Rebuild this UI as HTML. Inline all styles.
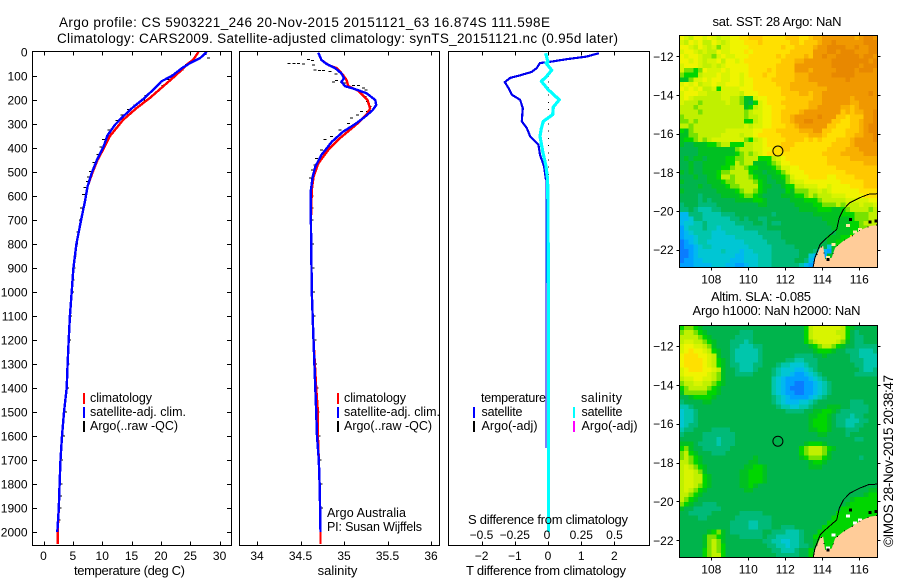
<!DOCTYPE html>
<html lang="en">
<head>
<meta charset="utf-8">
<title>Argo profile 5903221_246</title>
<style>
html,body{margin:0;padding:0;background:#fff;}
svg{display:block;}
text{font-family:"Liberation Sans",sans-serif;font-size:12px;fill:#000;}
text.big{font-size:13.5px;}
text.mid{font-size:13px;}
text.leg{font-size:12.5px;}
</style>
</head>
<body>
<svg id="chart" xmlns="http://www.w3.org/2000/svg" width="900" height="580" viewBox="0 0 900 580">
  <rect x="0" y="0" width="900" height="580" fill="#fff"/>
  <defs>
    <clipPath id="clip-sst"><rect x="679.5" y="35.5" width="198" height="232"/></clipPath>
    <clipPath id="clip-sla"><rect x="679.5" y="325.5" width="198" height="232"/></clipPath>
  </defs>
  <text class="big" x="59" y="27" textLength="491" lengthAdjust="spacing">Argo profile: CS 5903221_246 20-Nov-2015 20151121_63 16.874S 111.598E</text>
  <text class="big" x="57" y="43" textLength="561" lengthAdjust="spacing">Climatology: CARS2009. Satellite-adjusted climatology: synTS_20151121.nc (0.95d later)</text>
  <g id="layer-maps"></g>
  <g id="layer-profiles"></g>
  <g id="layer-axes"></g>

  <text class="mid" x="129.5" y="575" text-anchor="middle" textLength="111" lengthAdjust="spacing">temperature (deg C)</text>
  <text class="mid" x="337.5" y="575" text-anchor="middle">salinity</text>
  <text class="mid" x="546" y="575" text-anchor="middle" textLength="160" lengthAdjust="spacing">T difference from climatology</text>
  <text class="mid" x="548" y="524" text-anchor="middle" textLength="160" lengthAdjust="spacing">S difference from climatology</text>

  <g>
    <rect x="83" y="393" width="2" height="11" fill="#f00"/>
    <rect x="83" y="407" width="2" height="11" fill="#00f"/>
    <rect x="83" y="421" width="2" height="11" fill="#000"/>
    <text class="leg" x="90" y="402" textLength="62" lengthAdjust="spacing">climatology</text>
    <text class="leg" x="90" y="416" textLength="96" lengthAdjust="spacing">satellite-adj. clim.</text>
    <text class="leg" x="90" y="430" textLength="88" lengthAdjust="spacing">Argo(..raw -QC)</text>
  </g>
  <g>
    <rect x="337" y="393" width="2" height="11" fill="#f00"/>
    <rect x="337" y="407" width="2" height="11" fill="#00f"/>
    <rect x="337" y="421" width="2" height="11" fill="#000"/>
    <text class="leg" x="344" y="402" textLength="62" lengthAdjust="spacing">climatology</text>
    <text class="leg" x="344" y="416" textLength="96" lengthAdjust="spacing">satellite-adj. clim.</text>
    <text class="leg" x="344" y="430" textLength="88" lengthAdjust="spacing">Argo(..raw -QC)</text>
    <text class="leg" x="327" y="517" textLength="79" lengthAdjust="spacing">Argo Australia</text>
    <text class="leg" x="327" y="531" textLength="95" lengthAdjust="spacing">PI: Susan Wijffels</text>
  </g>
  <g>
    <text class="leg" x="481" y="402" textLength="65" lengthAdjust="spacing">temperature</text>
    <text class="leg" x="581" y="402" textLength="41" lengthAdjust="spacing">salinity</text>
    <rect x="473" y="407" width="2" height="11" fill="#00f"/>
    <rect x="473" y="421" width="2" height="11" fill="#000"/>
    <rect x="573" y="407" width="2" height="11" fill="#0ff"/>
    <rect x="573" y="421" width="2" height="11" fill="#f0f"/>
    <text class="leg" x="481.5" y="416" textLength="41" lengthAdjust="spacing">satellite</text>
    <text class="leg" x="481.5" y="430" textLength="56" lengthAdjust="spacing">Argo(-adj)</text>
    <text class="leg" x="581.5" y="416" textLength="41" lengthAdjust="spacing">satellite</text>
    <text class="leg" x="581.5" y="430" textLength="56" lengthAdjust="spacing">Argo(-adj)</text>
  </g>

  <text class="mid" x="777" y="26" text-anchor="middle" textLength="129" lengthAdjust="spacing">sat. SST: 28 Argo: NaN</text>
  <text class="mid" x="711" y="301" textLength="100" lengthAdjust="spacing">Altim. SLA: -0.085</text>
  <text class="mid" x="692.5" y="315" textLength="168" lengthAdjust="spacing">Argo h1000: NaN h2000: NaN</text>
  <text class="big" transform="translate(893,547) rotate(-90)" textLength="172" lengthAdjust="spacing">©IMOS 28-Nov-2015 20:38:47</text>
</svg>

<script>
// ---------- depth axis ----------
const depthTicks = [0,100,200,300,400,500,600,700,800,900,1000,1100,1200,1300,1400,1500,1600,1700,1800,1900,2000];

// ---------- temperature panel ----------
const tempTicks = [0,5,10,15,20,25,30];
const climDepth = [0,32,53,94,143,192,233,282,351,396,450,506,561,617,700,800,900,1000,1100,1200,1300,1400,1500,1600,1700,1800,1900,2000,2050];
const climTemp = [26.4,25.5,24.4,22.7,20.4,18.1,15.9,13.6,11.3,10.4,9.2,8.3,7.5,7.1,6.4,5.6,5.1,4.8,4.5,4.3,4.1,3.95,3.5,3.15,2.9,2.75,2.6,2.4,2.4];
const satDepth = [0,25,46,67,99,122,157,196,229,268,303,347,396,450,506,561,617,700,800,900,1000,1100,1200,1300,1400,1500,1600,1700,1800,1900,2000];
const satTemp = [27.8,26.7,25.0,23.6,21.9,20.1,18.7,17.0,15.3,13.6,12.2,10.9,10.2,9.1,8.2,7.5,7.1,6.4,5.6,5.1,4.8,4.5,4.3,4.1,3.95,3.5,3.15,2.9,2.75,2.6,2.35];
const argoTempDepth = [10,25,32,53,74,94,115,140,164,182,199,220,240,262,285,325,365,395,428,460,497,520,539,565,594,650,700,750,800,850,900,950,1000,1100,1200,1300,1400,1500,1600,1700,1800,1850,1900,1950];
const argoTemp = [27.5,28.1,26.1,24.4,23.6,22.1,21.2,20.4,18.4,17.5,17.0,15.6,14.5,13.4,12.5,11.2,10.2,9.8,9.3,8.6,8.0,7.7,7.5,7.1,6.8,6.5,6.3,5.9,5.6,5.4,5.2,5.0,4.9,4.6,4.4,4.2,4.1,3.75,3.4,3.1,2.95,2.9,2.85,2.6];

// ---------- salinity panel ----------
const salTicks = [34,34.5,35,35.5,36];
const salTickLabels = ['34','34.5','35','35.5','36'];
const climSalDepth = [3,33,54,68,96,117,142,161,200,235,255,290,318,360,408,464,520,575,700,1000,1200,1400,1500,1600,1700,1800,1900,2000,2050];
const climSal = [34.705,34.74,34.82,34.92,34.99,35.03,35.05,35.16,35.27,35.30,35.27,35.18,35.09,34.95,34.82,34.705,34.65,34.63,34.62,34.63,34.65,34.68,34.70,34.70,34.71,34.72,34.725,34.73,34.73];
const satSalDepth = [3,33,50,68,89,110,124,142,155,172,200,221,242,270,300,332,374,429,478,520,575,700,1000,1200,1400,1500,1600,1700,1800,1900,2000];
const satSal = [34.705,34.74,34.80,34.90,34.97,35.0,34.97,35.01,35.13,35.26,35.36,35.37,35.33,35.24,35.13,34.99,34.86,34.74,34.67,34.64,34.62,34.62,34.63,34.65,34.67,34.68,34.69,34.71,34.72,34.725,34.73];
const argoSalDepth = [47,47,47,50,31,36,54,75,78,78,82,92,119,124,124,130,140,140,151,158,186,207,228,248,248,262,276,297,325,353,364,408,443,471,492,526,561,600,650,700,800,900,1000,1100,1200,1300,1400,1500,1600,1700,1800,1900];
const argoSal = [34.37,34.425,34.475,34.533,34.59,34.636,34.648,34.667,34.716,34.762,34.839,34.908,34.916,34.877,34.973,35.011,35.107,35.165,35.222,35.253,35.241,35.268,35.299,35.268,35.203,35.153,35.088,35.05,34.954,34.858,34.782,34.743,34.686,34.667,34.636,34.617,34.629,34.63,34.635,34.635,34.64,34.645,34.65,34.655,34.665,34.675,34.69,34.70,34.71,34.725,34.735,34.74];

// ---------- difference panel ----------
const diffTTicks = [-2,-1,0,1,2];
const diffSTicks = [-0.5,-0.25,0,0.25,0.5];
const diffSTickLabels = ['−0.5','−0.25','0','0.25','0.5'];
const diffTTickLabels = ['−2','−1','0','1','2'];
const diffTDepth = [5,19,30,42,46,67,83,97,108,126,150,178,199,233,289,317,351,386,428,476,532];
const diffT = [1.53,1.16,0.56,0.01,-0.24,-0.34,-0.49,-0.84,-1.14,-1.3,-1.19,-1.09,-0.84,-0.76,-0.79,-0.64,-0.54,-0.29,-0.24,-0.12,-0.06];
const diffT1Depth = [532,1000,1650];
const diffT1 = [-0.06,-0.06,-0.06];
const diffT2Depth = [1730,1855];
const diffT2 = [0.05,0.05];
const diffT3Depth = [1960,2000];
const diffT3 = [0.05,0.05];
const diffSDepth = [5,42,46,76,101,122,156,199,229,261,289,317,351,414,476,532,660,1000,1500,2000];
const diffS = [-0.018,0,-0.015,0.028,-0.01,-0.05,0,0.085,0.04,0.035,-0.035,-0.05,-0.06,-0.04,-0.015,-0.003,0,0.003,0.003,0.003];
const argoDiffDepth = [100,125,150,180,210,240,270,300,330,360,390,420,450,480,510,540];
const argoDiffT = [0.02,0.02,0.02,0.02,0.02,0.02,0.02,0.02,0.02,0.02,0.02,0.02,0.02,0.02,0.02,0.02];

// ---------- map data (a = coldest .. r = warmest, one letter per grid cell) ----------
const lonTicks = [108,110,112,114,116];
const latTicks = [-12,-14,-16,-18,-20,-22];
const floatLon = 111.6;
const floatLat = -16.9;
const sstRows = [
"mlkmmlmlkl lmmnnooonn nnnooonnop pqqqqqqqpq rrq",
"lkmlmkkmlk lmmmnnnonn nnnnoonooo pqqrqqqqqq rrr",
"mmlkmlkljl lmmmmnnnnn nnonnoooop qqrrrrqqrq qrr",
"lmmlklkkml lmmmnmnnnn nnnnoooooq qqrrqrrrqq qrr",
"mlmmlkkjlm llmmmnnnnn nonoooopoq qrqqrrrrrq rrq",
"mmlmlkllmk mmlmnnnnnn nnoooppqqq qqqrrrrrrr rqr",
"lmmmlkklkl mmmmmnnnnn nooooqqqqq qqqrrrrrrq rrr",
"ljjijmlllm lmmmmnnnno nooooqqqpq qqqqrrrrqr rrq",
"jiiiklllml lmmlmnnnon noooopppqq qqqrrrrrqq qqq",
"hhjllmlmml lmmlmmnnnn ooooopppqq qqqqqqrqqq qqq",
"lmlmkllmll mmmlmmnnnn nooopppppp qqqqqqqqqq qqq",
"mlmlmkklil lllmmmnnnn nnoopppppp ppqqqqqqqq qqq",
"lmmmllkkkl lllkmmmnnn nnooooppop pqqqqqqqqq qrq",
"lmlkkkkkkl lkkjhhlmmn nnnoooooop pqqqqqqpqq qqq",
"lkkkjkkkkk lkkjhgilmn nnoooooopp pqqqqqqppq qqq",
"kkkjkkkkkk kkkkhiklmm nnnooooopp qqqqqppopq qqq",
"kkkkjkkkkk kkkkjkllmm nnoooopqqq qqqqqopopp qqr",
"jkkkkkkkkk kkkkjkklmm nnoopqqqqq rqqqoonooo qqr",
"jjkjkkkkkk kkkkiiklmm nnoopqqrrq qqqoonnoop qqr",
"kkjkkkkkkk kkkklkllmm nnnoopqqqq qqoonnnoop qrr",
"ihjkkkkkkk llllllmmnn nooooopppq qoonnnooop qrr",
"hhjjkkkkkl lllkllmnnn nnoooooopp ponnnnoopp qqr",
"hiijkjklll lllljiklmn nnnoooonon onnnooopqq qqr",
"hgghhhiijk kiiikkllmn nnooonnnnn nnnoooopqq qqq",
"gggghhhhhh hhjkkkllmm nnoonnnnnn nnoooopppq qqq",
"gggghhhhhh hhijkjklmn nnnnnnnnnn nooooppppp qqq",
"ghghhghhhh iijjkkkiii klmnnnnnnn nnoooooppp ppp",
"gghgghhhhh iikjkkhhhi jkmmnnnnnn nnoooooooo ppp",
"gghgghhhhi ijkkjiihhh ijllmmnnnn nnnnoooooo ooo",
"hghgghhhij jkkkkihhgh hijlmmmnnn nnnnnnoooo ooo",
"ggghgghhik kjkkkjihhg hhijlmmmnn nnmmnnnnoo ooo",
"hggggghhhi jjkkkkjihg ghhjkllmmm mmmmmnnnnn ooo",
"gggghgghhh ijjkkkkihh gghiikklll mmlmmmmnnn ooo",
"hggggggghh hhijkkjihg gggihjjjkk lklmmmmmmn nnn",
"ggggfggggh hhhijjihgg gghhhiijkj kkklllmmmm nnn",
"ggggfgfggg gghhhhiihg gggghhhiii jkkkkkllll lmm",
"fgggffffgg ggggggghhg ggggghhhhi ijjjkjkkkl kkl",
"ffgfeeeffg gggggggggg gggggghhhh iiihhijkkk kjk",
"ccfffeeeef ffgggggggg fggggggggh hhhhhiiijj jkk",
"ccdffeeeee effgfggffg gggggggggg ghhhhhhijj jkk",
"cddeefeeee eeffffggfg ffgggggggg gghhhhhiij kkk",
"bdeeefeede eeeefffffg gggggggggg ggghhhhiij jkk",
"bcdeeeeddd eeeeeeefff ffgggggggg gggghhhiii jkk",
"bccdeeeddd ddeeeeeeff ffgggggggg gghhhiikkk kkk",
"abcdeedddd ddddeeeeef fffggggggg gghhiijkkk kkk",
"abbcdeeddd dddddeeeee fffffggggg ggdhiikkkk kkk",
"aabcddddde dddcddeeee ffffffgggf dcbhhkkkkk kkk",
"aabcdddddd ddccdddeee ffffffggdc bbhhkkkkkk kkk",
"abbccddddd dcccdddeee fffffggfcb bhhkkkkkkk kkk",
"bbbccccddd ccbbcddeee ffffffecba bhkkkkkkkk kkk"
];
const slaRows = [
"ijjihggggg gggggggggg gggggggikl lllllkihgg ggg",
"jkkjihgggg gggfffgggg gggggggikl llllkkigfg ggg",
"kkkkjihggg ggffffgggg gggggggikl lllllkigff ggg",
"kllkkjihgg gfffefgggg gggggggijk llllkjhgff ggg",
"lmmllkjhgg gffeeeffgg gggggggghi jkkjihggff fff",
"lmnmmlkihg gfeeeeefgg gggggggggh iiihggfffe eef",
"mnnnmmlkhg gfeeeeefgg gggggffffg ghgggggffe eee",
"mnnnnmlkih gfeeeeefgg gggffeefff gggggggfff eee",
"mnnnnmlkih gffeeeffgg gfeedddeff ggggggggff eee",
"lmnnnmmlkh ggfeeefggg fedddccdef gggggggggf eef",
"lmmmmmlkjh ggffffgggg feddcbbcde fgggggggff fff",
"kllmmllkjh gggggggggg edcbbbbbcd efgggggggg ggg",
"jkkllkkjih gggggggggg edcbbaabbc defggggggg ggg",
"ijkkkkjihg gggggggggg edcbaaabbc defggggggg ggg",
"hjjjjjiihg gggggggggg edcbbaabbc defggggggg ggg",
"gghiiiihgg gggggggggg fedcbbbbcd efgggggggg ggg",
"fgggghhggg gggggggggg fedcccddef gggggggfff ggg",
"eefggggggg gggggggggg gfeeddeefg gghhhggfff fgg",
"deefgggggg gggggggggg gggffffggh hiihgfffff fgg",
"deefgggggg gggggggggg gggggggghh iihgfffeff ggg",
"deefgggggg gggggggggg gggggggghi iihgffeeef fgg",
"deffgggggg gggggggggg gggggggghi iihgffeeff ggg",
"effggggfff fggggggggg gggggggghh iihgggfffg ggg",
"fggggfffff ffgggggggg gggggggggg hhggggfggg ggg",
"gggggfffef ffgggggggg gggggggggg ggggggggff ggg",
"hhhgffffef ffgggggggg ggggggghii ihgggggggg ggg",
"ijhggfffff fggggggggg ggggggijkk kjihgggggg ggg",
"jkihgggfff gggggggggg ggggggijkk kjhggggggg ggg",
"jkjihggggg gggggghggg gggggghijj jihggggggf ggg",
"kkjihggggg ggggghhggg gggggggghi ihgggggggg ggg",
"klkjihgggg gggghhiihg gggggggghh hggggggggg ggg",
"kllkjhgggg ggghhiiihg gggggggggg gggggggggg ggg",
"kllkkihggg ggghhiiihg gggggggggg gggggggggg ggg",
"kllkkihggg ggghhiiihg gggggggggg gggggggggg ggg",
"kllkjihggg ggghhihggg gggggggggg gggggggggg ggg",
"klkjihgggg gggghhgggg gggggggggg gggggggggg ghh",
"kkjihggggg gggggggggg gggggggggg gggggggggg hii",
"kjihgggggg gggggggggg gggggggggg ggggggghii iii",
"jihggfffgg gggggggggg gggggggggg gggggghiii iii",
"hggffffffg gggggggggg gggggggggg gggggiiiii iii",
"ggfffffggg gggfffffgg gggggggggg ggggiiiiii iii",
"ggggffgggg ggffffffff gggggggggg gggiiiiiii iii",
"gggggggggg gffffeefff gggggggggg ggiiiiiiii iii",
"gggggggggg gffffeefff ggfffggggg giiiiiiiii iii",
"gggggghijh gfffffffgg fffeeefggg iiiiiiiiii iii",
"ggggghjjih gggfffffgf feeeeefggi iiiiiiiiii iii",
"ggggghjkjh ggggggggff eeddeefggh iiiiiiiiii iii",
"ggggghjkji gggggggggf feedeeffgh iiiiiiiiii iii",
"gggggijkji gggggggggg ffeeefggih iiiiiiiiii iii",
"gggggijkki gggggggggg gfffffggih iiiiiiiiii iii"
];
const coastLon = [116.97,116.58,116.04,115.59,115.14,114.69,114.51,114.15,114.05,113.88,113.6,113.51];
const coastLat = [-20.73,-20.78,-21.0,-21.3,-21.55,-21.9,-22.42,-22.5,-21.81,-21.9,-22.5,-22.92];
const contourLon = [116.97,116.49,116.04,115.5,115.14,114.92,114.78,114.15,113.88,113.6,113.51];
const contourLat = [-19.11,-19.14,-19.31,-19.57,-19.92,-20.35,-20.95,-21.47,-21.73,-22.42,-22.9];
const islandLon = [115.53,116.58,116.9,114.32];
const islandLat = [-20.44,-20.58,-20.53,-22.5];
const gapLon = [116.04,115.4,115.77,114.6,114.32];
const gapLat = [-20.95,-20.75,-21.1,-21.73,-22.4];

// ---------- scales ----------
const SVGNS = 'http://www.w3.org/2000/svg';
const mapLayer = document.getElementById('layer-maps');
const profileLayer = document.getElementById('layer-profiles');
const axesLayer = document.getElementById('layer-axes');
const levelColors = {a:'#0a7cff',b:'#00a0ff',c:'#00b8f0',d:'#00c6d4',e:'#00c6ac',f:'#00ba78',g:'#00b44c',h:'#00c022',i:'#00d600',j:'#78e200',k:'#c0f000',l:'#d8f400',m:'#f0f400',n:'#ffe000',o:'#ffc800',p:'#f8b000',q:'#f09800',r:'#e88800'};
const depthY = d => 52 + d * 0.24;
const tempX = t => 43.5 + t * 5.87;
const salX = s => 257 + (s - 34) * 87;
const diffTX = t => 548 + t * 33.2;
const diffSX = s => 548 + s * 133;
const PANEL_TOP = 51.5;
const PANEL_BOTTOM = 545.5;

function make(parent, tag, attrs, content) {
  const el = document.createElementNS(SVGNS, tag);
  for (const k in attrs) el.setAttribute(k, attrs[k]);
  if (content !== undefined) el.textContent = content;
  parent.appendChild(el);
  return el;
}

function drawLine(xs, ds, xFn, color, width, name) {
  const pts = xs.map((v, i) => xFn(v).toFixed(1) + ',' + depthY(ds[i]).toFixed(1)).join(' ');
  const el = make(profileLayer, 'polyline', {points: pts, fill: 'none', stroke: color, 'stroke-width': width, 'shape-rendering': 'crispEdges', 'stroke-linejoin': 'round'});
  
  
}

function drawDots(xs, ds, xFn, w, h, name) {
  xs.forEach((v, i) => {
    const el = make(profileLayer, 'rect', {x: (xFn(v) - w / 2).toFixed(1), y: (depthY(ds[i]) - h / 2).toFixed(1), width: w, height: h, fill: '#000', 'shape-rendering': 'crispEdges'});
    
    
  });
}

function drawFrame(x0, x1, name) {
  const el = make(axesLayer, 'rect', {x: x0, y: PANEL_TOP, width: x1 - x0, height: PANEL_BOTTOM - PANEL_TOP, fill: 'none', stroke: '#000', 'stroke-width': 1, 'shape-rendering': 'crispEdges'});
  
  
}

function drawXTicks(vals, xFn, labels, baseline, top, bottom, name) {
  vals.forEach((v, i) => {
    const x = Math.round(xFn(v)) + 0.5;
    if (top) {
      const a = make(axesLayer, 'line', {x1: x, x2: x, y1: PANEL_TOP, y2: PANEL_TOP + 4, stroke: '#000', 'shape-rendering': 'crispEdges'});
      
      
    }
    if (bottom) {
      const b = make(axesLayer, 'line', {x1: x, x2: x, y1: PANEL_BOTTOM - 4, y2: PANEL_BOTTOM, stroke: '#000', 'shape-rendering': 'crispEdges'});
      
      
    }
    const t = make(axesLayer, 'text', {x: xFn(v), y: baseline, 'text-anchor': 'middle'}, labels[i]);
    
    
  });
}

// ---------- profile panels ----------
drawFrame(32.5, 231.5, 'temperature-plot-frame');
drawFrame(239.5, 439.5, 'salinity-plot-frame');
drawFrame(448.5, 649.5, 'difference-plot-frame');

depthTicks.forEach(d => {
  const y = Math.round(depthY(d)) + 0.5;
  if (d > 0) {
    const l = make(axesLayer, 'line', {x1: 32.5, x2: 37, y1: y, y2: y, stroke: '#000', 'shape-rendering': 'crispEdges'});
    
    
    const r = make(axesLayer, 'line', {x1: 227, x2: 231.5, y1: y, y2: y, stroke: '#000', 'shape-rendering': 'crispEdges'});
    
    
  }
  const t = make(axesLayer, 'text', {x: 27.5, y: depthY(d) + 4.5, 'text-anchor': 'end'}, String(d));
  
  
});

drawXTicks(tempTicks, tempX, tempTicks.map(String), 560, true, true, 'temperature');
drawXTicks(salTicks, salX, salTickLabels, 560, true, true, 'salinity');
drawXTicks(diffTTicks, diffTX, diffTTickLabels, 560, true, true, 't-difference');
diffSTicks.forEach((v, i) => {
  const t = make(axesLayer, 'text', {x: diffSX(v) - (i === 2 ? 1 : 0), y: 539, 'text-anchor': 'middle'}, diffSTickLabels[i]);
  
  
});

drawDots(argoTemp, argoTempDepth, tempX, 3, 1, 'argo-temperature-point');
drawLine(climTemp, climDepth, tempX, '#f00', 2.4, 'climatology-temperature-line');
drawLine(satTemp, satDepth, tempX, '#00f', 2.4, 'satellite-temperature-line');

drawDots(argoSal, argoSalDepth, salX, 3, 1, 'argo-salinity-point');
drawLine(climSal, climSalDepth, salX, '#f00', 2.4, 'climatology-salinity-line');
drawLine(satSal, satSalDepth, salX, '#00f', 2.4, 'satellite-salinity-line');

drawDots(argoDiffT, argoDiffDepth, diffTX, 1, 1, 'argo-difference-point');
drawLine(diffT, diffTDepth, diffTX, '#00e', 2.2, 'temperature-difference-line');
drawLine(diffT1, diffT1Depth, diffTX, '#00e', 1, 'temperature-difference-deep-line');
drawLine(diffT2, diffT2Depth, diffTX, '#00e', 1, 'temperature-difference-lower-line');
drawLine(diffT3, diffT3Depth, diffTX, '#00e', 1, 'temperature-difference-bottom-line');
drawLine(diffS, diffSDepth, diffSX, '#0ff', 3.2, 'salinity-difference-line');

// ---------- maps ----------
function drawMap(rows, top, lat12Y, degY, clipId, name) {
  const lonX = lon => 711.3 + (lon - 108) * 18.5;
  const latY = lat => lat12Y + (-12 - lat) * degY;
  const left = 679.5, right = 877.5, bottom = top + 232;
  const cellW = 198 / 43, cellH = 232 / 50;
  const g = make(mapLayer, 'g', {'clip-path': 'url(#' + clipId + ')'});
  
  

  rows.forEach((raw, r) => {
    const row = raw.replace(/ /g, '');
    for (let c = 0; c < 43; c++) {
      const code = row[c] || row[row.length - 1];
      const cell = make(g, 'rect', {x: (left + c * cellW).toFixed(2), y: (top + r * cellH).toFixed(2), width: (cellW + 0.3).toFixed(2), height: (cellH + 0.3).toFixed(2), fill: levelColors[code], 'shape-rendering': 'crispEdges'});
      
      
    }
  });

  gapLon.forEach((lon, i) => {
    const gap = make(g, 'rect', {x: lonX(lon) - 2, y: latY(gapLat[i]) - 1.5, width: 4, height: 3, fill: name === 'sla' ? '#fff' : '#ffe9a0', 'shape-rendering': 'crispEdges'});
    
    
  });

  const landPts = coastLon.map((lon, i) => lonX(lon).toFixed(1) + ',' + latY(coastLat[i]).toFixed(1));
  landPts.push(lonX(coastLon[coastLon.length - 1]).toFixed(1) + ',' + bottom);
  landPts.push(right + ',' + bottom);
  landPts.push(right + ',' + latY(coastLat[0]).toFixed(1));
  const land = make(g, 'polygon', {points: landPts.join(' '), fill: '#ffcc99', stroke: 'none'});
  
  

  const coast = make(g, 'polyline', {points: coastLon.map((lon, i) => lonX(lon).toFixed(1) + ',' + latY(coastLat[i]).toFixed(1)).join(' '), fill: 'none', stroke: '#000', 'stroke-width': 1, 'stroke-dasharray': '1 8', 'shape-rendering': 'crispEdges'});
  
  

  const contour = make(g, 'polyline', {points: contourLon.map((lon, i) => lonX(lon).toFixed(1) + ',' + latY(contourLat[i]).toFixed(1)).join(' '), fill: 'none', stroke: '#000', 'stroke-width': 1, 'shape-rendering': 'crispEdges'});
  
  

  islandLon.forEach((lon, i) => {
    const isl = make(g, 'rect', {x: lonX(lon) - 1.5, y: latY(islandLat[i]) - 1.5, width: 3, height: 3, fill: '#000', 'shape-rendering': 'crispEdges'});
    
    
  });

  const marker = make(g, 'circle', {cx: lonX(floatLon), cy: latY(floatLat), r: 5, fill: 'none', stroke: '#000', 'stroke-width': 1});
  
  

  const frame = make(mapLayer, 'rect', {x: left, y: top, width: right - left, height: 232, fill: 'none', stroke: '#000', 'stroke-width': 1, 'shape-rendering': 'crispEdges'});
  
  

  lonTicks.forEach(lon => {
    const x = Math.round(lonX(lon)) + 0.5;
    const a = make(mapLayer, 'line', {x1: x, x2: x, y1: top - 3, y2: top, stroke: '#000', 'shape-rendering': 'crispEdges'});
    
    
    const b = make(mapLayer, 'line', {x1: x, x2: x, y1: bottom, y2: bottom + 3, stroke: '#000', 'shape-rendering': 'crispEdges'});
    
    
    const t = make(mapLayer, 'text', {x: lonX(lon), y: bottom + 16, 'text-anchor': 'middle'}, String(lon));
    
    
  });
  latTicks.forEach(lat => {
    const y = Math.round(latY(lat)) + 0.5;
    const a = make(mapLayer, 'line', {x1: left - 3, x2: left, y1: y, y2: y, stroke: '#000', 'shape-rendering': 'crispEdges'});
    
    
    const b = make(mapLayer, 'line', {x1: right, x2: right + 3, y1: y, y2: y, stroke: '#000', 'shape-rendering': 'crispEdges'});
    
    
    const t = make(mapLayer, 'text', {x: 673.5, y: latY(lat) + 4.5, 'text-anchor': 'end'}, '−' + Math.abs(lat));
    
    
  });
}

drawMap(sstRows, 35.5, 56.3, 19.33, 'clip-sst', 'sst');
drawMap(slaRows, 325.5, 346, 19.43, 'clip-sla', 'sla');
</script>
</body>
</html>
